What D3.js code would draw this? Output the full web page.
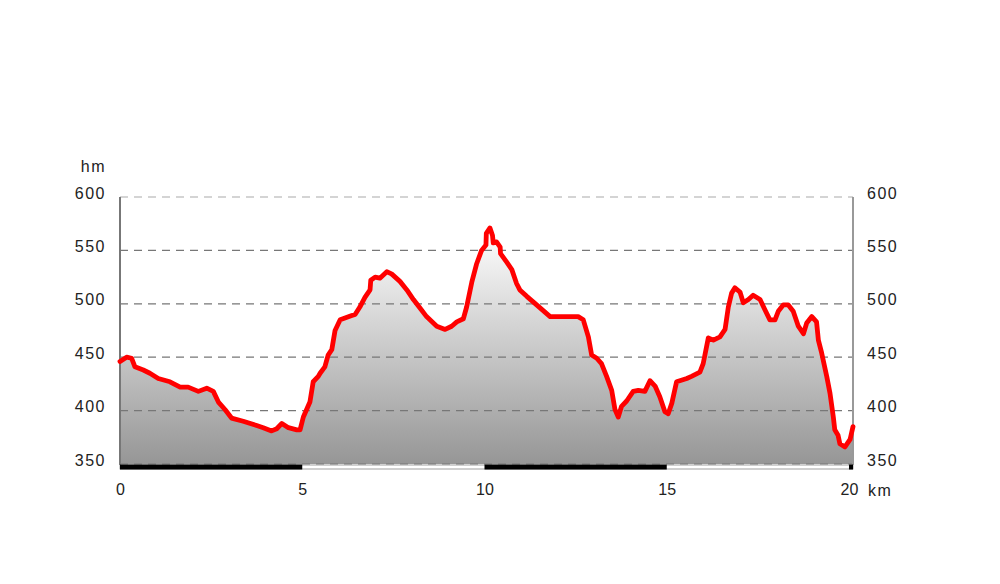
<!DOCTYPE html>
<html><head><meta charset="utf-8">
<script src="https://cdn.jsdelivr.net/npm/d3@7"></script>
<style>
body{margin:0;background:#fff;}
svg{display:block;font-family:"Liberation Sans",Arial,sans-serif;}
</style></head>
<body><svg id="c" width="1000" height="584"></svg>
<script>
const distanceKm = [0.00,0.18,0.32,0.41,0.64,0.82,1.05,1.37,1.65,1.87,2.15,2.38,2.56,2.70,2.88,3.06,3.38,3.75,3.93,4.16,4.30,4.44,4.62,4.85,4.94,5.03,5.21,5.30,5.44,5.49,5.62,5.71,5.81,5.90,6.04,6.36,6.45,6.58,6.72,6.86,6.88,7.00,7.13,7.32,7.45,7.68,7.87,8.05,8.23,8.41,8.69,8.92,9.10,9.24,9.42,9.51,9.65,9.78,9.92,10.04,10.05,10.15,10.22,10.24,10.33,10.43,10.44,10.61,10.75,10.88,10.97,11.16,11.43,11.80,12.07,12.57,12.71,12.85,12.94,13.08,13.21,13.35,13.49,13.58,13.67,13.76,13.90,14.08,14.22,14.40,14.54,14.68,14.81,14.95,15.04,15.14,15.27,15.55,15.68,15.91,16.00,16.14,16.28,16.46,16.60,16.69,16.78,16.87,17.01,17.10,17.24,17.37,17.56,17.70,17.83,17.97,18.06,18.20,18.33,18.47,18.61,18.75,18.84,18.98,19.11,19.16,19.25,19.39,19.48,19.57,19.61,19.70,19.75,19.89,20.03,20.07,20.11];
const elevationM = [446,450,449,441,438,435,430,427,422,422,418,421,418,408,401,393,390,386,384,381,383,388,384,382,382,394,408,427,432,435,441,452,457,475,485,489,490,497,506,513,522,525,524,530,528,521,513,504,496,488,479,476,479,483,486,497,520,537,550,555,566,571,564,557,558,553,547,539,532,519,513,507,499,488,488,488,485,469,452,449,444,432,419,401,394,404,409,418,419,418,428,423,413,399,397,407,427,430,432,436,444,468,466,469,476,497,510,515,511,501,504,508,504,494,485,485,493,499,499,493,479,472,482,488,483,466,454,432,416,394,382,377,369,366,373,379,385];
const yTicks = [350,400,450,500,550,600];
const xTicks = [0,5,10,15,20];
const scaleSegments = [[0,5,"black"],[5,10,"white"],[10,15,"black"],[15,20,"white"],[20,20.11,"black"]];
const data = distanceKm.map((d,i)=>({km:d, m:elevationM[i]}));

const svg = d3.select("#c");
const x = d3.scaleLinear().domain([0,20.11]).range([120,853]);
const y = d3.scaleLinear().domain([350,600]).range([464,197]);

const defs = svg.append("defs");
const g = defs.append("linearGradient").attr("id","fillg").attr("x1",0).attr("y1",0).attr("x2",0).attr("y2",1);
g.append("stop").attr("offset","0%").attr("stop-color","#ffffff");
g.append("stop").attr("offset","100%").attr("stop-color","#969696");

// area
svg.append("path").datum(data)
  .attr("d", d3.area().x(d=>x(d.km)).y0(y(350)).y1(d=>y(d.m)))
  .attr("fill","url(#fillg)");

// grid lines
svg.append("g").selectAll("line").data(yTicks).join("line")
  .attr("x1",120).attr("x2",853)
  .attr("y1",d=>y(d)).attr("y2",d=>y(d))
  .attr("stroke",d=>d===600?"#aaa":"#777").attr("stroke-width",1.2)
  .attr("stroke-dasharray","8,6");

// axis lines
svg.append("line").attr("x1",120).attr("x2",120).attr("y1",197).attr("y2",465).attr("stroke","#777").attr("stroke-width",2);
svg.append("line").attr("x1",853).attr("x2",853).attr("y1",197).attr("y2",465).attr("stroke","#999").attr("stroke-width",2);

// scale bar
svg.append("rect").attr("x",120).attr("y",465).attr("width",733).attr("height",4).attr("fill","#fff").attr("stroke","#888").attr("stroke-width",0.8);
svg.append("g").selectAll("rect").data(scaleSegments.filter(s=>s[2]==="black")).join("rect")
  .attr("x",d=>x(d[0])).attr("width",d=>x(d[1])-x(d[0]))
  .attr("y",464.5).attr("height",5).attr("fill","#000");

// profile line
svg.append("path").datum(data)
  .attr("d", d3.line().x(d=>x(d.km)).y(d=>y(d.m)))
  .attr("fill","none").attr("stroke","#ff0000").attr("stroke-width",4.8)
  .attr("stroke-linejoin","round").attr("stroke-linecap","round");

// axes (labels)
const left = svg.append("g").attr("transform","translate(106,-4)")
  .call(d3.axisLeft(y).tickValues(yTicks).tickSize(0).tickPadding(0));
const right = svg.append("g").attr("transform","translate(867,-4)")
  .call(d3.axisRight(y).tickValues(yTicks).tickSize(0).tickPadding(0));
const bottom = svg.append("g").attr("transform","translate(0,484)")
  .call(d3.axisBottom(x).tickValues(xTicks).tickSize(0).tickPadding(0));
[left,right,bottom].forEach(a=>{
  a.select(".domain").remove();
  a.selectAll("text").attr("font-size",16).attr("fill","#222").attr("font-family","Liberation Sans, Arial, sans-serif");
});
left.selectAll("text").attr("letter-spacing",1.5);
right.selectAll("text").attr("letter-spacing",1.5);
svg.append("text").attr("x",106).attr("y",171.5).attr("text-anchor","end").attr("font-size",16).attr("letter-spacing",1.5).attr("fill","#222").text("hm");
svg.append("text").attr("x",868).attr("y",495.5).attr("font-size",16).attr("letter-spacing",1.5).attr("fill","#222").text("km");
</script></body></html>
